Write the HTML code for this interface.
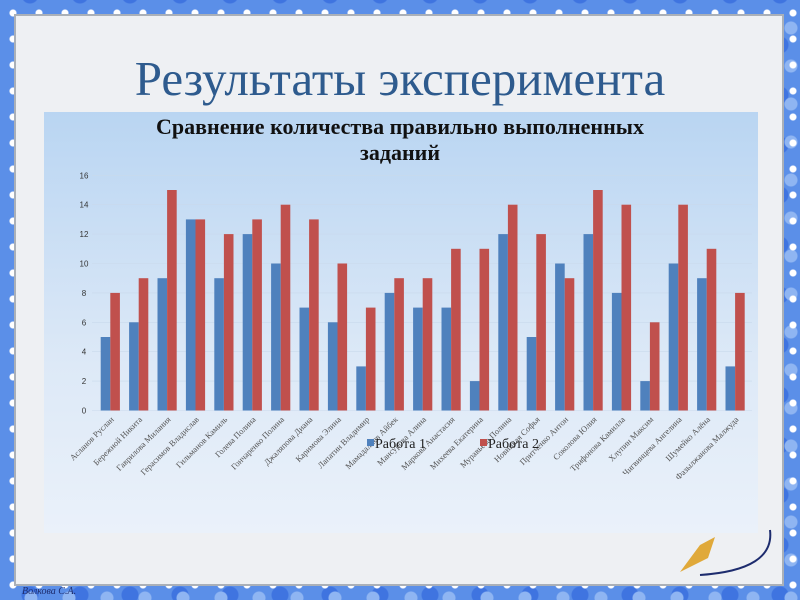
<!DOCTYPE html>
<html><head><meta charset="utf-8"><style>
html,body{margin:0;padding:0;}
body{width:800px;height:600px;overflow:hidden;background:#5b8fe8;position:relative;
background-image:radial-gradient(circle,#ffffff 0 3px,transparent 4px),radial-gradient(circle,#8fb5f2 0 6px,transparent 7px),radial-gradient(circle,#3f74e0 0 8px,transparent 9px);
background-size:26px 26px,38px 38px,50px 50px;background-position:0 0,12px 9px,5px 20px;}
#panel{position:absolute;left:14px;top:14px;width:770px;height:572px;background:#eef0f3;border:2px solid #aab0b8;box-sizing:border-box;}
#sv{position:absolute;left:0;top:0;}
</style></head><body>
<div id="panel"></div>
<svg id="sv" width="800" height="600" xmlns="http://www.w3.org/2000/svg">
<defs><linearGradient id="g" x1="0" y1="0" x2="0" y2="1"><stop offset="0" stop-color="#b9d5f2"/><stop offset="0.6" stop-color="#dde9f7"/><stop offset="1" stop-color="#eaf1fa"/></linearGradient></defs>
<text x="400" y="95" text-anchor="middle" font-family="Liberation Serif, serif" font-size="49" fill="#2e5b8e">Результаты эксперимента</text>
<rect x="44" y="112" width="714" height="421" fill="url(#g)"/>
<text x="400" y="134" text-anchor="middle" font-family="Liberation Serif, serif" font-weight="bold" font-size="22" fill="#111">Сравнение количества правильно выполненных</text>
<text x="400" y="160" text-anchor="middle" font-family="Liberation Serif, serif" font-weight="bold" font-size="22" fill="#111">заданий</text>
<g id="ch"></g>
<path d="M700 575 Q775 570 770 530" stroke="#1d2c6e" stroke-width="2" fill="none"/>
<path d="M680 572 L700 545 L715 537 L708 558 Z" fill="#e0a93a"/>
<text x="22" y="594" font-family="Liberation Serif, serif" font-style="italic" font-size="10" fill="#1d2c6e">Волкова С.А.</text>
</svg>
<script>
var w1=[5,6,9,13,9,12,10,7,6,3,8,7,7,2,12,5,10,12,8,2,10,9,3];
var w2=[8,9,15,13,12,13,14,13,10,7,9,9,11,11,14,12,9,15,14,6,14,11,8];
var names=["Асланов Руслан","Бережной Никита","Гаврилова Милания","Герасимов Владислав","Гильманов Камиль","Голева Полина","Гончаренко Полина","Джаляпова Диана","Каримова Элина","Лапатин Владимир","Мамадалиев Айбек","Мансурова Алина","Маркова Анастасия","Михеева Екатерина","Муравьева Полина","Новицкая Софья","Притченко Антон","Соколова Юлия","Трифонова Камилла","Хлупин Максим","Чигвинцева Ангелина","Шумейко Алёна","Фазылжанова Малжуда"];
var s='',y0=410.5,u=14.7;
for(var k=0;k<=16;k+=2){var y=y0-k*u;s+='<line x1="92" x2="752" y1="'+y+'" y2="'+y+'" stroke="#c9d9ec" stroke-width="0.6"/><text x="84" y="'+(y+3)+'" text-anchor="middle" font-family="Liberation Sans, sans-serif" font-size="8" fill="#333">'+k+'</text>';}
for(var i=0;i<23;i++){var c=110.3+i*28.4;
s+='<rect x="'+(c-9.6)+'" y="'+(y0-w1[i]*u)+'" width="9.6" height="'+(w1[i]*u)+'" fill="#4f81bd"/>';
s+='<rect x="'+c+'" y="'+(y0-w2[i]*u)+'" width="9.6" height="'+(w2[i]*u)+'" fill="#c0504d"/>';
s+='<text transform="translate('+(c+4)+',420) rotate(-45)" text-anchor="end" font-family="Liberation Serif, serif" font-size="8.5" fill="#555">'+names[i]+'</text>';}
s+='<rect x="367" y="439" width="7" height="7" fill="#4f81bd"/><text x="375" y="448" font-family="Liberation Serif, serif" font-size="14" fill="#222">Работа 1</text>';
s+='<rect x="480" y="439" width="7" height="7" fill="#c0504d"/><text x="488" y="448" font-family="Liberation Serif, serif" font-size="14" fill="#222">Работа 2</text>';
document.getElementById('ch').innerHTML=s;
</script>
</body></html>
